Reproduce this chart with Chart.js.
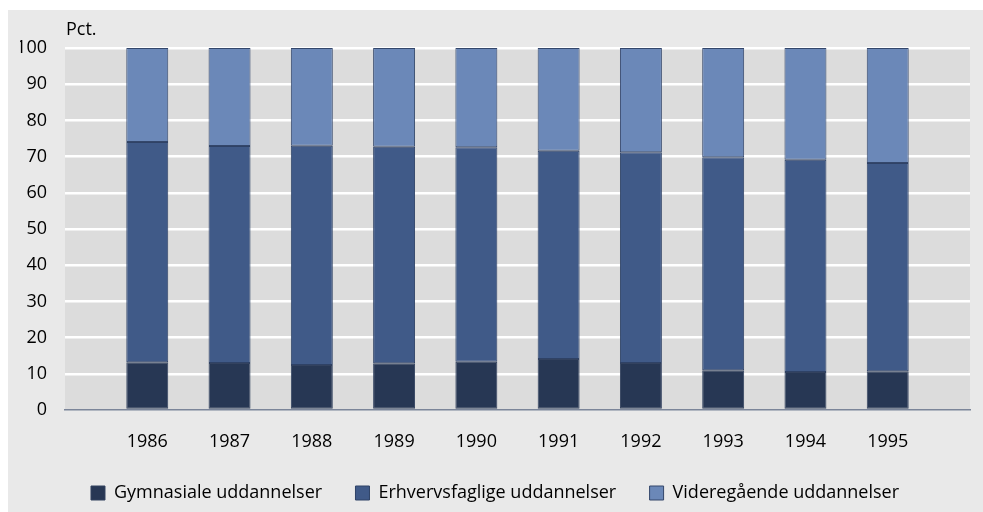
<!DOCTYPE html>
<html>
<head>
<meta charset="utf-8">
<script src="https://cdn.jsdelivr.net/npm/chart.js@4/dist/chart.umd.min.js"></script>
<style>
  html, body { margin: 0; padding: 0; background: #fff; }
  #wrap { width: 983px; height: 512px; }
</style>
</head>
<body>
<div id="wrap"><canvas id="chart" width="983" height="512"></canvas></div>
<script>
const years = ['1986', '1987', '1988', '1989', '1990', '1991', '1992', '1993', '1994', '1995']
const gymnasiale = [13.2, 13.0, 12.4, 12.9, 13.3, 14.1, 13.0, 11.0, 10.5, 10.7]
const erhvervsfaglige = [60.8, 59.9, 60.6, 59.8, 59.3, 57.5, 58.2, 58.8, 58.6, 57.5]
const videregaaende = [26.0, 27.1, 27.0, 27.3, 27.4, 28.4, 28.8, 30.2, 30.9, 31.8]
const yTicks = [0, 10, 20, 30, 40, 50, 60, 70, 80, 90, 100]

const FONT = "'Open Sans', sans-serif"

// empty slot at each end so the bars sit inside the plot like the original
const pad = (arr) => [null, ...arr, null]
const labels = ['', ...years, '']

const backgroundPlugin = {
  id: 'backgrounds',
  beforeDraw(chart) {
    const { ctx, chartArea } = chart
    ctx.save()
    ctx.fillStyle = '#ffffff'
    ctx.fillRect(0, 0, chart.width, chart.height)
    ctx.fillStyle = '#e9e9e9'
    ctx.fillRect(8, 10, chart.width - 8, chart.height - 10)
    ctx.fillStyle = '#dcdcdc'
    ctx.fillRect(chartArea.left, chartArea.top, chartArea.right - chartArea.left, chartArea.bottom - chartArea.top)
    ctx.fillStyle = '#000'
    ctx.font = `18px ${FONT}`
    ctx.textBaseline = 'middle'
    ctx.fillText('Pct.', 66, 30)
    ctx.restore()
  },
}

const bar = (label, data, colour, border) => ({
  label,
  data: pad(data),
  backgroundColor: colour,
  borderColor: border,
  borderWidth: 1,
  borderSkipped: false,
  categoryPercentage: 1,
  barPercentage: 0.51,
})

new Chart(document.getElementById('chart'), {
  type: 'bar',
  data: {
    labels,
    datasets: [
      bar('Gymnasiale uddannelser', gymnasiale, '#273754', '#33425f'),
      bar('Erhvervsfaglige uddannelser', erhvervsfaglige, '#405a88', '#2f4266'),
      bar('Videregående uddannelser', videregaaende, '#6b88b8', '#34476b'),
    ],
  },
  options: {
    responsive: false,
    animation: false,
    layout: { padding: { top: 48, right: 13, bottom: 0, left: 20 } },
    scales: {
      x: {
        stacked: true,
        offset: false,
        grid: { display: false, drawTicks: false },
        border: { display: true, color: '#7b8599', width: 1.5 },
        ticks: { color: '#000', font: { family: FONT, size: 18 }, padding: 21, autoSkip: false, maxRotation: 0 },
        afterFit(scale) {
          scale.height = 64
          // tick padding would otherwise be added to the right edge
          scale.paddingLeft = 0
          scale.paddingRight = 0
        },
      },
      y: {
        stacked: true,
        min: 0,
        max: 100,
        afterBuildTicks(scale) { scale.ticks = yTicks.map((v) => ({ value: v })) },
        grid: {
          drawTicks: false,
          color: (c) => (c.tick && c.tick.value === 0 ? 'rgba(0,0,0,0)' : '#ffffff'),
          lineWidth: 2.5,
        },
        border: { display: false },
        ticks: { color: '#000', font: { family: FONT, size: 18 }, padding: 18 },
        afterFit(scale) { scale.width = 45 },
      },
    },
    plugins: {
      legend: {
        position: 'bottom',
        labels: {
          color: '#000',
          font: { family: FONT, size: 18 },
          boxWidth: 14,
          boxHeight: 14,
          padding: 10,
          generateLabels(chart) {
            return chart.data.datasets.map((d, i) => ({
              text: i < chart.data.datasets.length - 1 ? d.label + '\u00a0'.repeat(5) : d.label,
              fillStyle: d.backgroundColor,
              strokeStyle: d.borderColor,
              lineWidth: 1,
              datasetIndex: i,
            }))
          },
        },
      },
      tooltip: { enabled: false },
    },
  },
  plugins: [backgroundPlugin],
})
</script>
</body>
</html>
